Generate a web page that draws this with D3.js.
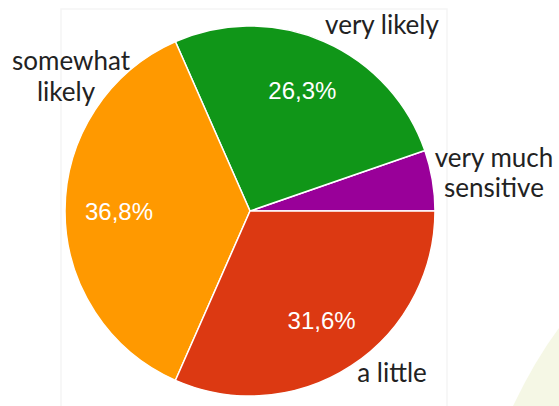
<!DOCTYPE html>
<html>
<head>
<meta charset="utf-8">
<script src="https://cdn.jsdelivr.net/npm/d3@7"></script>
<style>
  body { margin: 0; background: #fff; }
</style>
</head>
<body>
<div id="chart"></div>
<script>
// answers, in drawing order (counter-clockwise from 3 o'clock)
var categories = ["very much sensitive", "very likely", "somewhat likely", "a little"];
var values = [5.3, 26.3, 36.8, 31.6];
var pctLabels = ["", "26,3%", "36,8%", "31,6%"];
var colors = ["#990099", "#109618", "#ff9900", "#dc3912"];

function drawPie(){
  var w = 559,
    h = 406,
    cx = 250,
    cy = 211,
    radius = 185;

  var svg = d3.select("#chart").append("svg")
        .attr("width", w)
        .attr("height", h);

  // faint panel behind the chart
  svg.append("rect")
    .attr("x", 61).attr("y", 9)
    .attr("width", 386).attr("height", 410)
    .attr("fill", "#fff")
    .attr("stroke", "#f5f5f5")
    .attr("stroke-width", 1.5);

  // pale corner shape bottom right
  svg.append("path")
    .attr("d", "M513,406 Q535,360 559,328 L559,406 Z")
    .attr("fill", "#f5f7e5");

  var pie = d3.pie()
    .sort(null)
    .startAngle(Math.PI / 2)
    .endAngle(Math.PI / 2 - 2 * Math.PI);

  var arcs = pie(values);

  var arc = d3.arc().innerRadius(0).outerRadius(radius);
  var labelArc = d3.arc().innerRadius(131).outerRadius(131);

  var g = svg.append("g")
    .attr("transform", "translate(" + cx + "," + cy + ")");

  g.selectAll("path.slice")
    .data(arcs)
  .enter().append("path")
    .attr("class", "slice")
    .attr("d", arc)
    .attr("fill", function(d, i){ return colors[i]; })
    .attr("stroke", "#fff")
    .attr("stroke-width", 1.5);

  g.selectAll("text.pct")
    .data(arcs)
  .enter().append("text")
    .attr("class", "pct")
    .attr("transform", function(d){
      var c = labelArc.centroid(d);
      return "translate(" + c[0] + "," + (c[1] + 8.5) + ")";
    })
    .attr("text-anchor", "middle")
    .style("font-family", "'Liberation Sans', Arial, sans-serif")
    .style("font-size", "24px")
    .attr("fill", "#fff")
    .text(function(d, i){ return pctLabels[i]; });

  // category names placed around the pie
  var nameLines = [
    [["very much", 494, 167], ["sensitive", 494, 197]],
    [["very likely", 382, 34]],
    [["somewhat", 71, 70], ["likely", 66, 101]],
    [["a little", 392, 382]]
  ];

  categories.forEach(function(cat, i){
    nameLines[i].forEach(function(l){
      svg.append("text")
        .attr("x", l[1])
        .attr("y", l[2])
        .attr("text-anchor", "middle")
        .style("font-family", "Lato, sans-serif")
        .style("font-size", "26px")
        .attr("fill", "#222")
        .text(l[0]);
    });
  });
}

drawPie();
</script>
</body>
</html>
